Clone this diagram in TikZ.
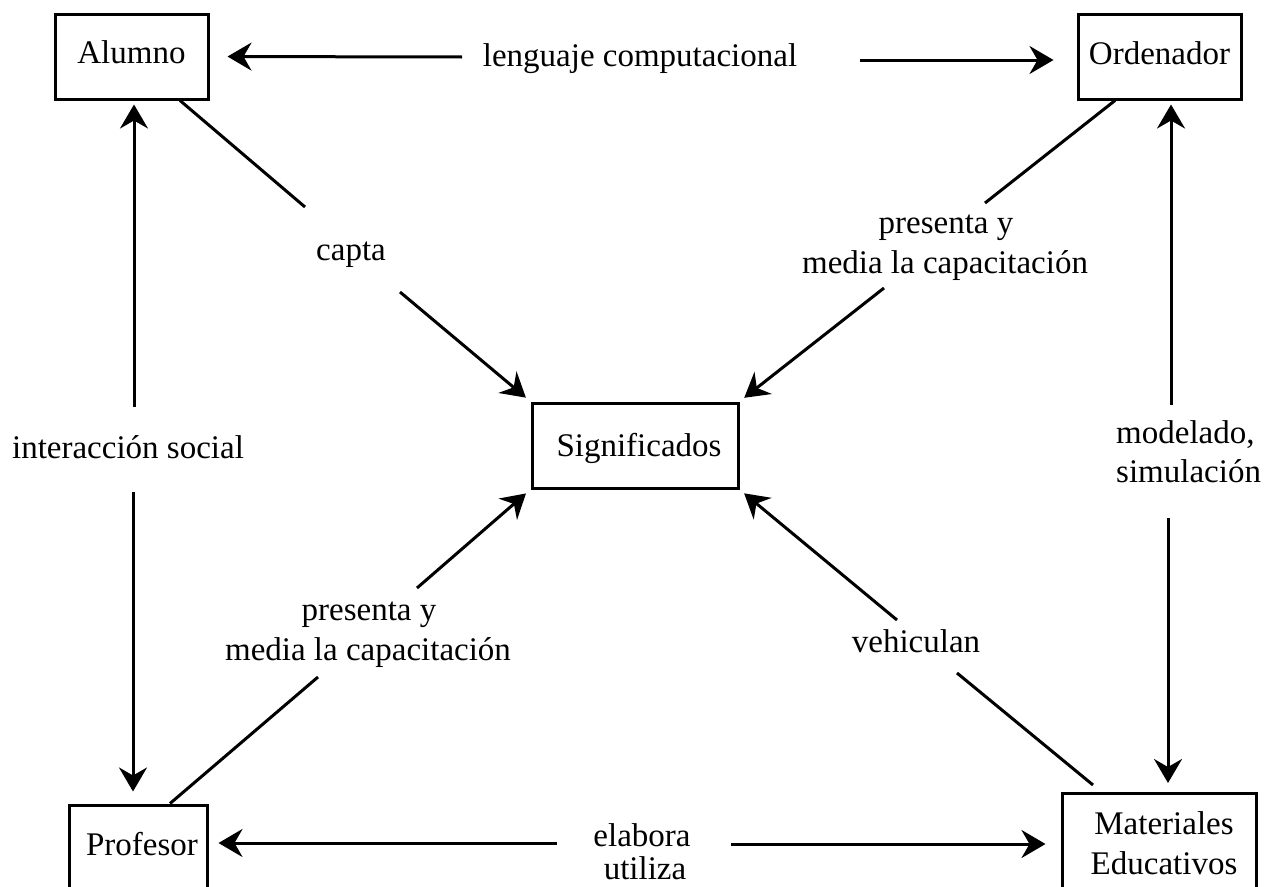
\documentclass[tikz,border=0pt]{standalone}
\usepackage{fontspec}
\setmainfont{Liberation Serif}
\usetikzlibrary{arrows.meta}
\newcommand\diafont{\fontsize{33pt}{40pt}\selectfont}
\begin{document}
\begin{tikzpicture}[x=1pt,y=-1pt,
  box/.style={draw,line width=3pt,inner sep=0pt,font=\diafont},
  lbl/.style={inner sep=0pt,anchor=base,font=\diafont},
  conn/.style={line width=3pt},
  arr/.style={conn,-{Stealth[length=24pt,width=28pt,inset=8pt]}}]
\useasboundingbox (0,0) rectangle (1273,886);
\clip (0,0) rectangle (1273,886);

% boxes
\node[box,minimum width=153pt,minimum height=85pt,text height=22pt,text depth=9pt] (alumno) at (131.5,56.5) {Alumno};
\node[box,minimum width=163pt,minimum height=85pt,text height=22pt,text depth=7pt] (ordenador) at (1159.5,56.5) {Ordenador};
\node[box,minimum width=206pt,minimum height=85pt,text height=22pt,text depth=0pt] (signif) at (635,445.5) {\hspace*{8pt}Significados};
\node[box,minimum width=138pt,minimum height=85pt,text height=22pt,text depth=7pt] (profesor) at (138,847.5) {\hspace*{8pt}Profesor};
\node[box,align=center,minimum width=194pt,minimum height=100pt,anchor=north] (mat) at (1159,792) {\hspace*{10pt}Materiales\\\hspace*{10pt}Educativos};

% labels
\node[lbl] (lc) at (640,66) {lenguaje computacional};
\node[lbl] (capta) at (351,260) {capta};
\node[lbl] (pr1) at (946,233) {presenta y};
\node[lbl] (pr2) at (945,273) {media la capacitación};
\node[lbl] (is) at (128,458) {interacción social};
\node[lbl,anchor=base west] (ms1) at (1116,443) {modelado,};
\node[lbl,anchor=base west] (ms2) at (1116,482) {simulación};
\node[lbl] (pb1) at (369,620) {presenta y};
\node[lbl] (pb2) at (368,660) {media la capacitación};
\node[lbl] (vh) at (916,652) {vehiculan};
\node[lbl] (eu1) at (642,846) {elabora};
\node[lbl] (eu2) at (645,879) {utiliza};

% free ends of connectors
\coordinate (lcL) at (462,57);
\coordinate (lcR) at (860,60);
\coordinate (isU) at (134,407);
\coordinate (isD) at (133,492);
\coordinate (msU) at (1171,405);
\coordinate (msD) at (1168,518);
\coordinate (euL) at (557,843);
\coordinate (euR) at (731,844);
\coordinate (cpA) at (305,207);
\coordinate (cpB) at (400,292);
\coordinate (prA) at (985,203);
\coordinate (prB) at (884,288);
\coordinate (pbA) at (318,677);
\coordinate (pbB) at (417,588);
\coordinate (vhA) at (957,673);
\coordinate (vhB) at (897,620);

% connectors
\draw[arr,shorten >=18pt] (lcL) -- (alumno.east);
\draw[arr,shorten >=23pt] (lcR) -- (lcR -| ordenador.west);
\draw[arr,shorten >=4pt] (isU) -- (isU |- alumno.south);
\draw[arr,shorten >=12pt] (isD) -- (isD |- profesor.north);
\draw[arr,shorten >=4pt] (msU) -- (msU |- ordenador.south);
\draw[arr,shorten >=9pt] (msD) -- (msD |- mat.north);
\draw[arr,shorten >=10pt] (euL) -- (euL -| profesor.east);
\draw[arr,shorten >=15pt] (euR) -- (euR -| mat.west);

\draw[conn] ([xshift=48.5pt]alumno.south) -- (cpA);
\draw[arr,shorten >=6pt] (cpB) -- (signif.north west);
\draw[conn] ([xshift=-44.5pt]ordenador.south) -- (prA);
\draw[arr,shorten >=6pt] (prB) -- (signif.north east);
\draw[conn] ([xshift=32pt]profesor.north) -- (pbA);
\draw[arr,shorten >=6pt] (pbB) -- (signif.south west);
\draw[conn] (vhA) -- ([xshift=-66pt,yshift=7pt]mat.north);
\draw[arr,shorten >=6pt] (vhB) -- (signif.south east);
\end{tikzpicture}
\end{document}
